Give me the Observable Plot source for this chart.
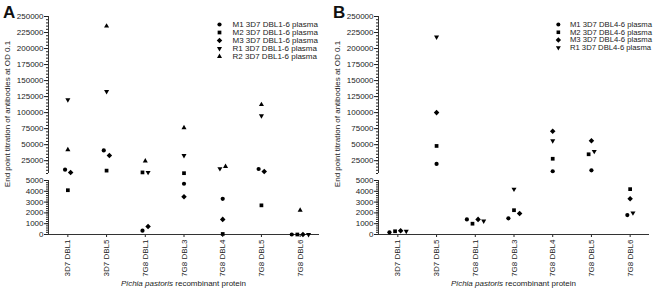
<!DOCTYPE html>
<html><head><meta charset="utf-8">
<script src="https://cdn.jsdelivr.net/npm/d3@7"></script>
<script src="https://cdn.jsdelivr.net/npm/@observablehq/plot@0.6"></script>
<style>
body{margin:0;background:#fff;}
#root{position:relative;width:660px;height:294px;overflow:hidden;font-family:"Liberation Sans",Arial,sans-serif;}
.layer{position:absolute;top:0;}
.layer svg{display:block;}
</style></head>
<body><div id="root"></div>
<script>
// ---- data ----
const categories = ["3D7 DBL1", "3D7 DBL5", "7G8 DBL1", "7G8 DBL3", "7G8 DBL4", "7G8 DBL5", "7G8 DBL6"];

const seriesA = ["M1 3D7 DBL1-6 plasma", "M2 3D7 DBL1-6 plasma", "M3 3D7 DBL1-6 plasma", "R1 3D7 DBL1-6 plasma", "R2 3D7 DBL1-6 plasma"];
const a_M1 = [11000, 41000, 350, 4700, 3300, 12000, 0];
const a_M2 = [4100, 9500, 6700, 5500, 50, 2700, 0];
const a_M3 = [6500, 33000, 750, 3500, 1400, 8000, 0];
const a_R1 = [120000, 133000, 6700, 33000, 12500, 95000, 0];
const a_R2 = [42000, 235000, 24500, 76500, 16000, 112500, 2250];

const seriesB = ["M1 3D7 DBL4-6 plasma", "M2 3D7 DBL4-6 plasma", "M3 3D7 DBL4-6 plasma", "R1 3D7 DBL4-6 plasma"];
const b_M1 = [200, 20000, 1400, 1500, 8500, 10000, 1800];
const b_M2 = [300, 48000, 1000, 2250, 28000, 35000, 4200];
const b_M3 = [350, 100000, 1400, 1950, 71000, 56000, 3300];
const b_R1 = [300, 218000, 1250, 4200, 56000, 39500, 2000];

const upperTicks = d3.range(25000, 250001, 25000);
const lowerTicks = d3.range(0, 5001, 1000);
const xTitle = ["Pichia pastoris", " recombinant protein"];
const yTitle = "End point titration of antibodies at OD 0.1";

// ---- layout constants ----
const W = 330, X0 = 48, X1 = 319;
const UP = {domain: [5000, 250000], top: 16, bottom: 173};
const LO = {domain: [0, 5000], top: 180, bottom: 234};
const bandPx = (X1 - X0) / categories.length;
const TXT = "#222";

function triangle(dir, scale) {
  return {draw(ctx, size) {
    const k = Math.sqrt(size * scale / (3 * Math.sqrt(3))) * dir;
    ctx.moveTo(0, 2 * k); ctx.lineTo(-Math.sqrt(3) * k, -k); ctx.lineTo(Math.sqrt(3) * k, -k); ctx.closePath();
  }};
}
const diamond = {draw(ctx, size) {
  const h = Math.sqrt(size * 1.1 / 2);
  ctx.moveTo(0, -h); ctx.lineTo(h, 0); ctx.lineTo(0, h); ctx.lineTo(-h, 0); ctx.closePath();
}};
const symbolRange = [d3.symbolCircle, d3.symbolSquare, diamond, triangle(1, 0.8), triangle(-1, 0.8)];

function buildRows(series, lists) {
  const rows = [];
  lists.forEach((vals, si) => vals.forEach((v, ci) => rows.push({series: series[si], si, ci, value: v})));
  const yU = d3.scaleLinear(UP.domain, [UP.bottom, UP.top]);
  const yL = d3.scaleLinear(LO.domain, [LO.bottom, LO.top]);
  rows.forEach(r => { r.seg = r.value > 5000 ? "up" : "lo"; r.py = r.seg === "up" ? yU(r.value) : yL(r.value); r.xi = r.ci; });
  // spread overlapping points horizontally within a column
  const groups = d3.group(rows, r => r.ci, r => r.seg);
  for (const [, segs] of groups) for (const [, pts] of segs) {
    const sorted = pts.slice().sort((a, b) => a.py - b.py);
    let cluster = [sorted[0]];
    const flush = () => {
      const c = cluster.slice().sort((a, b) => a.si - b.si);
      c.forEach((p, i) => { p.xi = p.ci + ((i - (c.length - 1) / 2) * 5.6) / bandPx; });
    };
    for (let i = 1; i < sorted.length; i++) {
      if (sorted[i].py - sorted[i - 1].py < 6) cluster.push(sorted[i]);
      else { flush(); cluster = [sorted[i]]; }
    }
    flush();
  }
  return rows;
}

function addLayer(left, node) {
  const d = document.createElement("div");
  d.className = "layer"; d.style.left = left + "px";
  d.appendChild(node);
  document.getElementById("root").appendChild(d);
}

const baseStyle = {fontFamily: "Liberation Sans, Arial, sans-serif", fontSize: "8px", color: TXT, background: "transparent", overflow: "visible"};

function panel(left, letter, series, lists, legend) {
  const rows = buildRows(series, lists);
  const symbol = {domain: series, range: symbolRange.slice(0, series.length)};
  const xdom = [-0.5, categories.length - 0.5];

  const lower = Plot.plot({
    width: W, height: 294, marginLeft: X0, marginRight: W - X1, marginTop: LO.top, marginBottom: 294 - LO.bottom,
    x: {domain: xdom},
    y: {domain: LO.domain},
    symbol,
    style: baseStyle,
    marks: [
      Plot.axisY({ticks: d3.range(0, 5001, 200), tickSize: 2, tickFormat: () => "", label: null}),
      Plot.axisY({ticks: lowerTicks, tickSize: 4, tickPadding: 1, tickFormat: d => String(d), label: null, fontSize: 8}),
      Plot.axisX({ticks: d3.range(categories.length), tickFormat: i => categories[i], tickRotate: -90, tickSize: 3, tickPadding: 2, label: null, fontSize: 8}),
      Plot.ruleX([xdom[0]], {stroke: "#333"}),
      Plot.ruleY([0], {stroke: "#333"}),
      Plot.dot(rows.filter(r => r.seg === "lo"), {x: "xi", y: "value", symbol: "series", r: 2.1, fill: "black", stroke: null})
    ]
  });
  addLayer(left, lower);

  const upper = Plot.plot({
    width: W, height: UP.bottom + 1, marginLeft: X0, marginRight: W - X1, marginTop: UP.top, marginBottom: 1,
    x: {domain: xdom, axis: null},
    y: {domain: UP.domain},
    symbol,
    style: baseStyle,
    marks: [
      Plot.axisY({ticks: d3.range(5000, 250001, 5000), tickSize: 2, tickFormat: () => "", label: null}),
      Plot.axisY({ticks: upperTicks, tickSize: 4, tickPadding: 1, tickFormat: d => String(d), label: null, fontSize: 8}),
      Plot.ruleX([xdom[0]], {stroke: "#333"}),
      Plot.dot(rows.filter(r => r.seg === "up"), {x: "xi", y: "value", symbol: "series", r: 2.1, fill: "black", stroke: null})
    ]
  });
  addLayer(left, upper);

  // legend
  const n = series.length;
  const leg = Plot.plot({
    width: 110, height: 80, margin: 0,
    x: {domain: [0, 1], range: [4, 110], axis: null},
    y: {type: "point", domain: series, range: [legend.y0, legend.y0 + legend.step * (n - 1)], axis: null},
    symbol,
    style: baseStyle,
    marks: [
      Plot.dot(series, {x: () => 0, y: d => d, symbol: d => d, r: 2.1, fill: "black", stroke: null}),
      Plot.text(series, {x: () => 0, y: d => d, text: d => d, dx: legend.dx, textAnchor: "start", fontSize: 8, fill: TXT})
    ]
  });
  addLayer(left + legend.x - 4, leg);

  // titles
  const svg = d3.create("svg").attr("width", W).attr("height", 294)
    .style("font-family", "Liberation Sans, Arial, sans-serif");
  svg.append("text").attr("x", 3).attr("y", 18).attr("font-size", 17).attr("font-weight", "bold").attr("fill", "#111").text(letter);
  svg.append("text").attr("transform", "translate(10.3,114) rotate(-90)").attr("text-anchor", "middle")
    .attr("font-size", 8).attr("fill", TXT).text(yTitle);
  const xt = svg.append("text").attr("x", (X0 + X1) / 2).attr("y", 286).attr("text-anchor", "middle").attr("font-size", 8).attr("fill", TXT);
  xt.append("tspan").attr("font-style", "italic").text(xTitle[0]);
  xt.append("tspan").text(xTitle[1]);
  const d = document.createElement("div");
  d.className = "layer"; d.style.left = left + "px"; d.style.pointerEvents = "none";
  d.appendChild(svg.node());
  document.getElementById("root").appendChild(d);
}

panel(0, "A", seriesA, [a_M1, a_M2, a_M3, a_R1, a_R2], {x: 219, y0: 18, step: 10.8, dx: 13});
panel(330, "B", seriesB, [b_M1, b_M2, b_M3, b_R1], {x: 228, y0: 20.5, step: 10.8, dx: 12});
</script>
</body></html>
